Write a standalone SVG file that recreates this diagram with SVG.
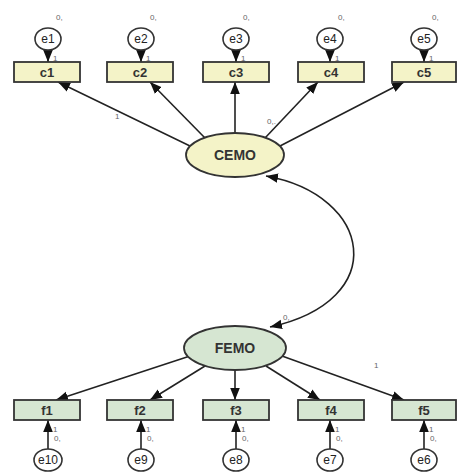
<svg xmlns="http://www.w3.org/2000/svg" width="459" height="473" viewBox="0 0 459 473">
<defs>
<marker id="ahs" viewBox="0 0 10 10" refX="10" refY="5" markerWidth="12" markerHeight="12" markerUnits="userSpaceOnUse" orient="auto-start-reverse">
<path d="M0,1 L10,5 L0,9 z" fill="#111"/>
</marker>
<style>
.box{stroke:#333;stroke-width:1.8}
.cb{fill:#f4f3c8}
.fb{fill:#d6e6d2}
.err{fill:#fff;stroke:#333;stroke-width:1.6}
.lbl{font-family:"Liberation Sans",Arial,sans-serif;font-size:13px;font-weight:bold;fill:#333;text-anchor:middle}
.lat{font-family:"Liberation Sans",Arial,sans-serif;font-size:14px;font-weight:bold;fill:#333;text-anchor:middle}
.el{font-family:"Liberation Sans",Arial,sans-serif;font-size:12px;fill:#222;text-anchor:middle}
.sm{font-family:"Liberation Sans",Arial,sans-serif;font-size:8px;fill:#666}
.ln{stroke:#222;stroke-width:1.6;fill:none;marker-end:url(#ahs)}
</style>
</defs>
<rect width="459" height="473" fill="#fff"/>
<g id="connectors">
<line class="ln" x1="48" y1="50" x2="48" y2="62"/>
<line class="ln" x1="141" y1="50" x2="141" y2="62"/>
<line class="ln" x1="236" y1="50" x2="236" y2="62"/>
<line class="ln" x1="330" y1="50" x2="330" y2="62"/>
<line class="ln" x1="424" y1="50" x2="424" y2="62"/>
<line class="ln" x1="190" y1="146" x2="58" y2="82"/>
<line class="ln" x1="205" y1="138" x2="150" y2="82"/>
<line class="ln" x1="235" y1="133" x2="235" y2="82"/>
<line class="ln" x1="265" y1="138" x2="318" y2="82"/>
<line class="ln" x1="280" y1="146" x2="404" y2="82"/>
<path d="M 266 176 C 372 195, 392 300, 270 327" stroke="#222" stroke-width="1.6" fill="none" marker-start="url(#ahs)" marker-end="url(#ahs)"/>
<line class="ln" x1="190" y1="356" x2="56" y2="400"/>
<line class="ln" x1="205" y1="366" x2="150" y2="400"/>
<line class="ln" x1="235" y1="370" x2="235" y2="400"/>
<line class="ln" x1="266" y1="366" x2="320" y2="400"/>
<line class="ln" x1="282" y1="356" x2="404" y2="400"/>
<line class="ln" x1="48" y1="449" x2="48" y2="420"/>
<line class="ln" x1="141" y1="449" x2="141" y2="420"/>
<line class="ln" x1="236" y1="449" x2="236" y2="420"/>
<line class="ln" x1="330" y1="449" x2="330" y2="420"/>
<line class="ln" x1="424" y1="449" x2="424" y2="420"/>
</g>
<g id="labels">
<text class="sm" x="56" y="20">0,</text>
<text class="sm" x="150" y="20">0,</text>
<text class="sm" x="243" y="20">0,</text>
<text class="sm" x="338" y="20">0,</text>
<text class="sm" x="432" y="20">0,</text>
<text class="sm" x="53" y="61">1</text>
<text class="sm" x="146" y="61">1</text>
<text class="sm" x="241" y="61">1</text>
<text class="sm" x="335" y="61">1</text>
<text class="sm" x="429" y="61">1</text>
<text class="sm" x="115" y="119">1</text>
<text class="sm" x="267" y="124">0,.</text>
<text class="sm" x="283" y="320">0,</text>
<text class="sm" x="374" y="368">1</text>
<text class="sm" x="53" y="432">1</text>
<text class="sm" x="54" y="441">0,</text>
<text class="sm" x="146" y="432">1</text>
<text class="sm" x="147" y="441">0,</text>
<text class="sm" x="241" y="432">1</text>
<text class="sm" x="242" y="441">0,</text>
<text class="sm" x="335" y="432">1</text>
<text class="sm" x="336" y="441">0,</text>
<text class="sm" x="429" y="432">1</text>
<text class="sm" x="430" y="441">0,</text>
</g>
<g id="e1"><ellipse class="err" cx="48" cy="39" rx="13" ry="11"/><text class="el" x="48" y="43">e1</text></g>
<g id="e2"><ellipse class="err" cx="141" cy="39" rx="13" ry="11"/><text class="el" x="141" y="43">e2</text></g>
<g id="e3"><ellipse class="err" cx="236" cy="39" rx="13" ry="11"/><text class="el" x="236" y="43">e3</text></g>
<g id="e4"><ellipse class="err" cx="330" cy="39" rx="13" ry="11"/><text class="el" x="330" y="43">e4</text></g>
<g id="e5"><ellipse class="err" cx="424" cy="39" rx="13" ry="11"/><text class="el" x="424" y="43">e5</text></g>
<g id="c1"><rect class="box cb" x="14" y="62" width="66" height="20"/><text class="lbl" x="47" y="77">c1</text></g>
<g id="c2"><rect class="box cb" x="107" y="62" width="66" height="20"/><text class="lbl" x="140" y="77">c2</text></g>
<g id="c3"><rect class="box cb" x="203" y="62" width="66" height="20"/><text class="lbl" x="236" y="77">c3</text></g>
<g id="c4"><rect class="box cb" x="298" y="62" width="66" height="20"/><text class="lbl" x="331" y="77">c4</text></g>
<g id="c5"><rect class="box cb" x="392" y="62" width="64" height="20"/><text class="lbl" x="424" y="77">c5</text></g>
<g id="CEMO"><ellipse class="box cb" cx="235" cy="155" rx="49" ry="22"/><text class="lat" x="235" y="160">CEMO</text></g>
<g id="FEMO"><ellipse class="box fb" cx="235" cy="348" rx="51" ry="22"/><text class="lat" x="235" y="353">FEMO</text></g>
<g id="f1"><rect class="box fb" x="14" y="400" width="66" height="20"/><text class="lbl" x="47" y="415">f1</text></g>
<g id="f2"><rect class="box fb" x="107" y="400" width="66" height="20"/><text class="lbl" x="140" y="415">f2</text></g>
<g id="f3"><rect class="box fb" x="203" y="400" width="66" height="20"/><text class="lbl" x="236" y="415">f3</text></g>
<g id="f4"><rect class="box fb" x="298" y="400" width="66" height="20"/><text class="lbl" x="331" y="415">f4</text></g>
<g id="f5"><rect class="box fb" x="392" y="400" width="64" height="20"/><text class="lbl" x="424" y="415">f5</text></g>
<g id="e10"><ellipse class="err" cx="48" cy="460" rx="14" ry="11"/><text class="el" x="48" y="464">e10</text></g>
<g id="e9"><ellipse class="err" cx="141" cy="460" rx="13" ry="11"/><text class="el" x="141" y="464">e9</text></g>
<g id="e8"><ellipse class="err" cx="236" cy="460" rx="13" ry="11"/><text class="el" x="236" y="464">e8</text></g>
<g id="e7"><ellipse class="err" cx="330" cy="460" rx="13" ry="11"/><text class="el" x="330" y="464">e7</text></g>
<g id="e6"><ellipse class="err" cx="424" cy="460" rx="13" ry="11"/><text class="el" x="424" y="464">e6</text></g>
</svg>
